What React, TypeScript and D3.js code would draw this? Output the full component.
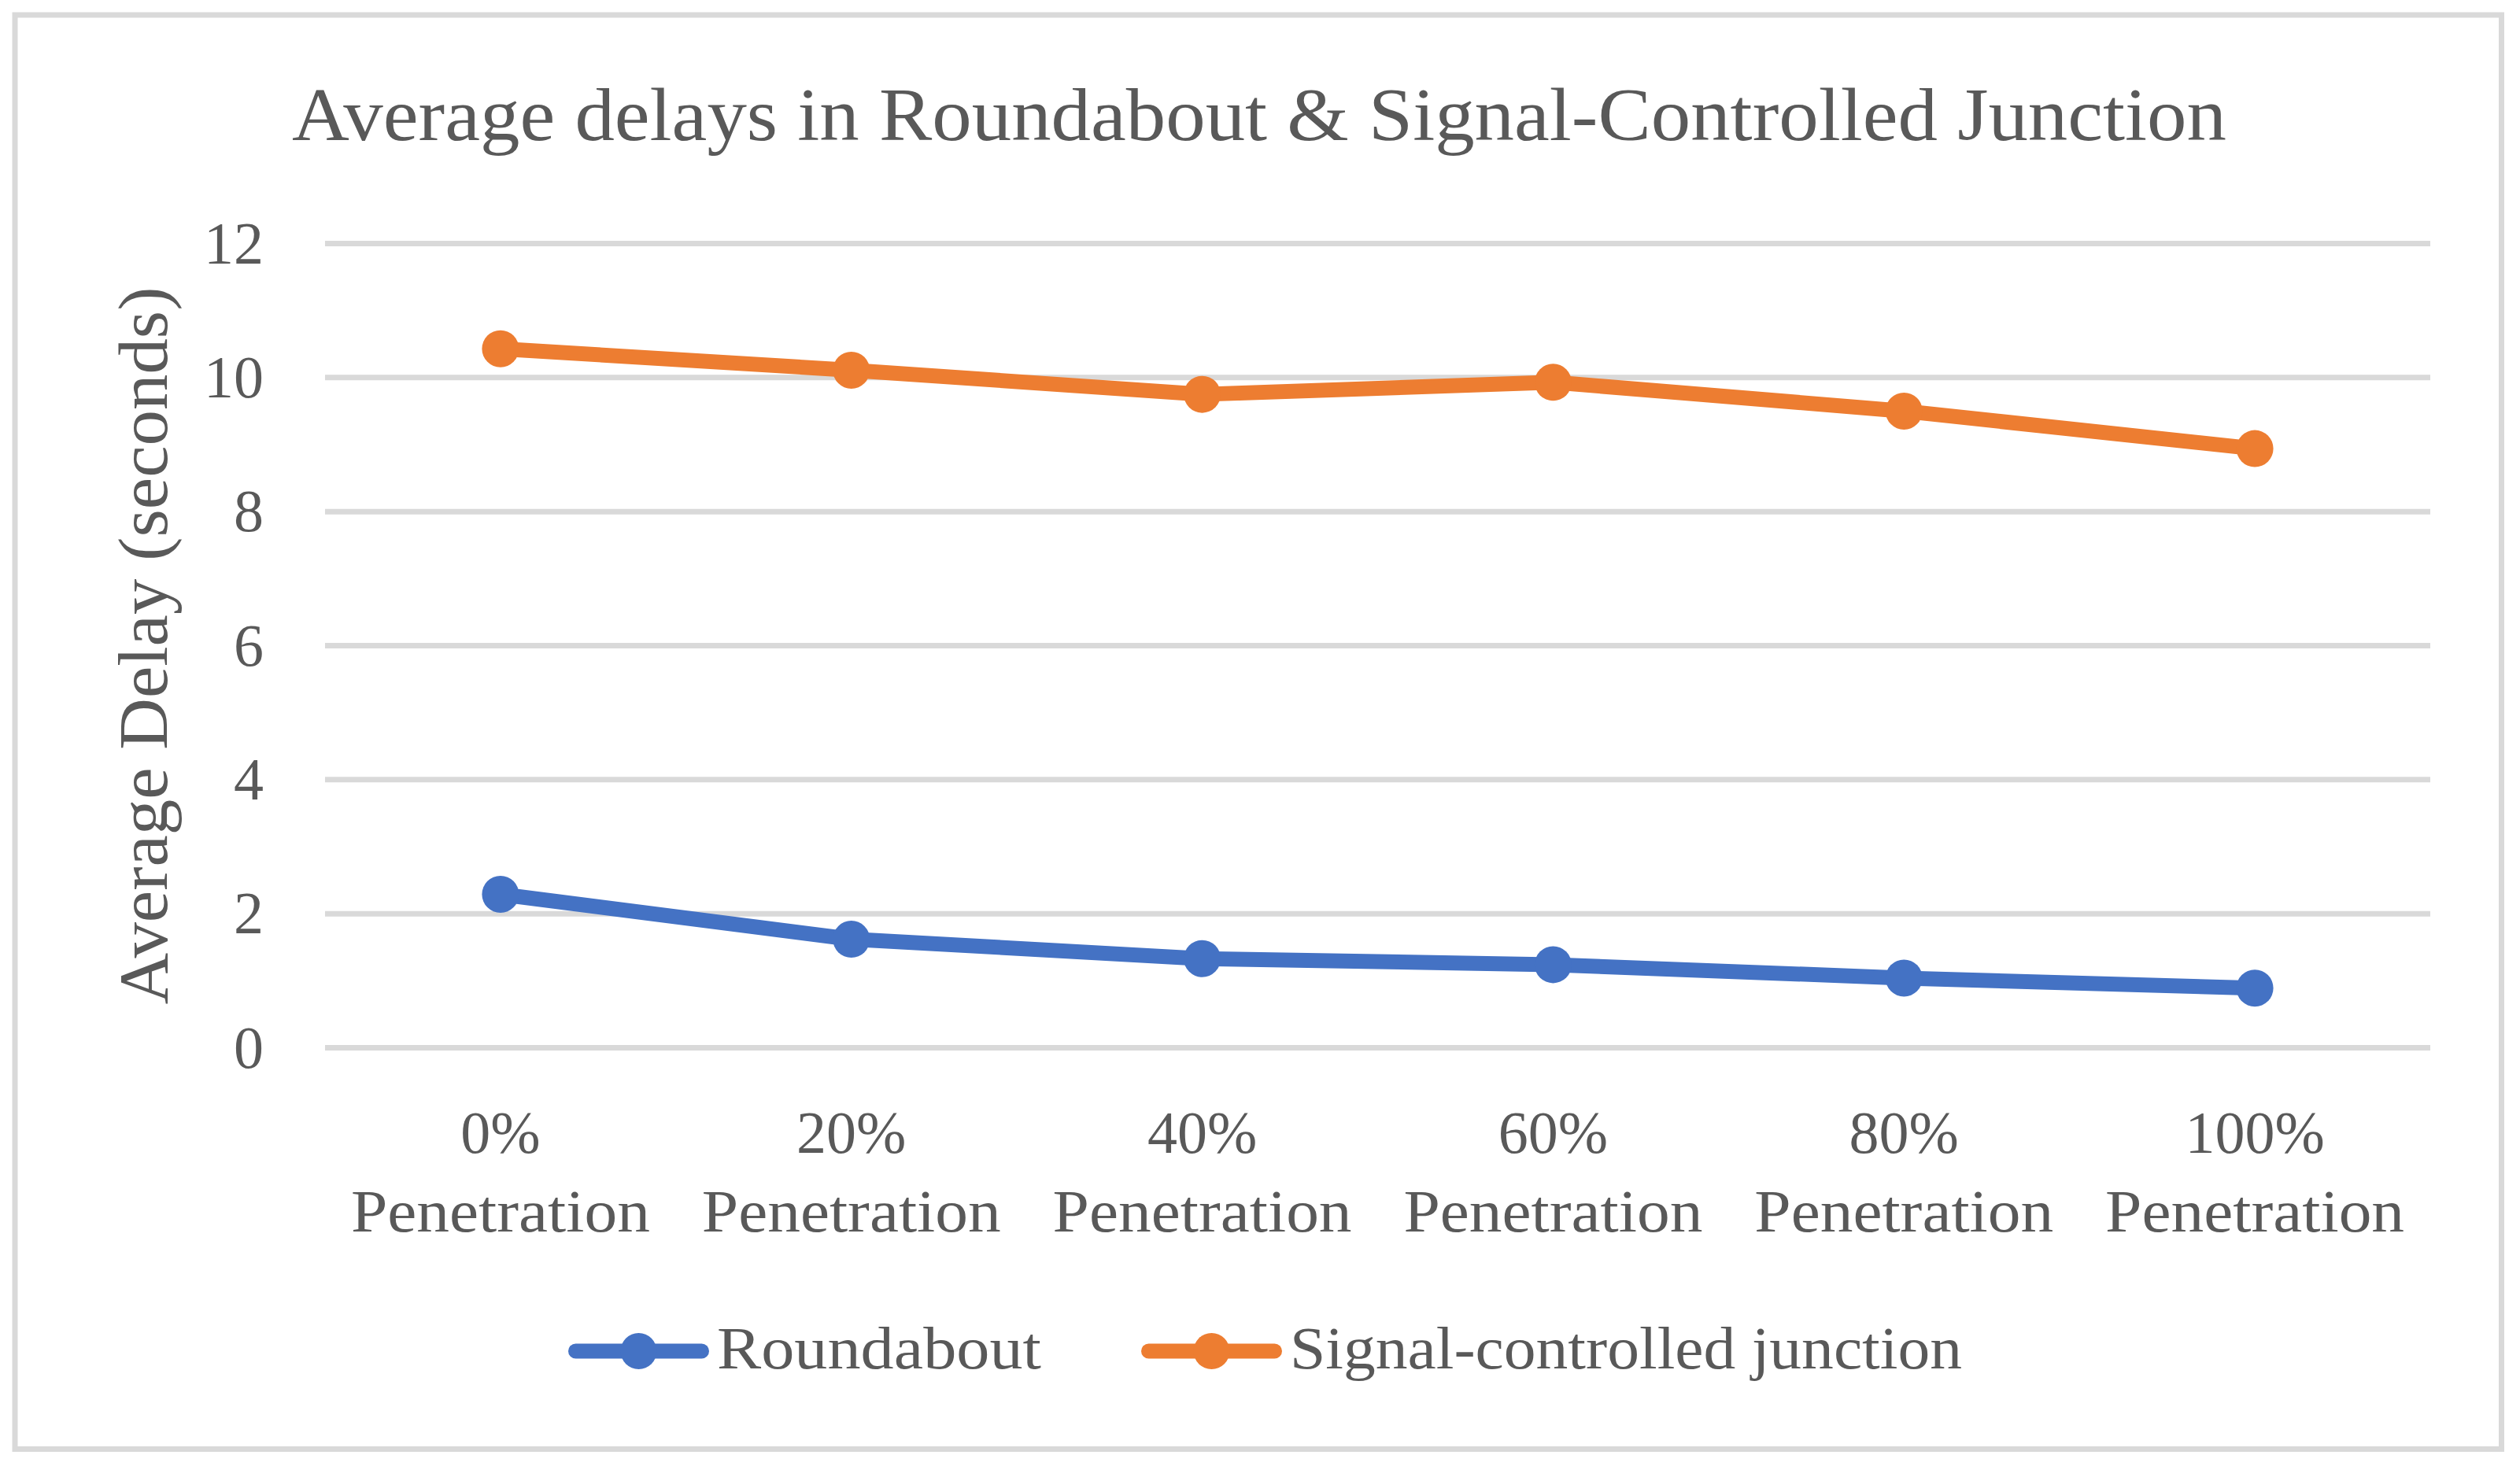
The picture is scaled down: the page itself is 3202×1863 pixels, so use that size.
import React, { useEffect, useRef } from "react";
import * as d3 from "d3";

const categories = ["0%", "20%", "40%", "60%", "80%", "100%"];
const categorySubLabel = "Penetration";
const roundabout = [2.29, 1.62, 1.33, 1.24, 1.04, 0.89];
const signalJunction = [10.43, 10.11, 9.75, 9.93, 9.5, 8.94];
const yTicks = [0, 2, 4, 6, 8, 10, 12];
const seriesNames = ["Roundabout", "Signal-controlled junction"];

const COLORS = {
  roundabout: "#4472c4",
  signal: "#ed7d31",
  text: "#595959",
  grid: "#d9d9d9",
};

const WIDTH = 3202;
const HEIGHT = 1863;
const FONT = "'Liberation Serif', 'DejaVu Serif', serif";

export default function App() {
  const svgRef = useRef<SVGSVGElement>(null);

  useEffect(() => {
    if (!svgRef.current) return;
    const svg = d3.select(svgRef.current);
    svg.selectAll("*").remove();

    svg.attr("width", WIDTH).attr("height", HEIGHT);

    // background + outer border
    svg.append("rect").attr("width", WIDTH).attr("height", HEIGHT).attr("fill", "#fff");
    svg
      .append("rect")
      .attr("x", 19)
      .attr("y", 19)
      .attr("width", 3178.5 - 19)
      .attr("height", 1841.5 - 19)
      .attr("fill", "none")
      .attr("stroke", COLORS.grid)
      .attr("stroke-width", 7);

    const plot = { left: 413, right: 3088, top: 309.5, bottom: 1331.5 };

    const x = d3.scaleBand<string>().domain(categories).range([plot.left, plot.right]);
    const cx = (c: string) => (x(c) ?? 0) + x.bandwidth() / 2;
    const y = d3.scaleLinear().domain([0, 12]).range([plot.bottom, plot.top]);

    // title
    svg
      .append("text")
      .attr("x", 1600)
      .attr("y", 178)
      .attr("text-anchor", "middle")
      .attr("font-family", FONT)
      .attr("font-size", 96)
      .attr("fill", COLORS.text)
      .attr("textLength", 2458)
      .attr("lengthAdjust", "spacingAndGlyphs")
      .text("Average delays in Roundabout & Signal-Controlled Junction");

    // gridlines
    svg
      .append("g")
      .selectAll("line")
      .data(yTicks)
      .join("line")
      .attr("x1", plot.left)
      .attr("x2", plot.right)
      .attr("y1", (d) => y(d))
      .attr("y2", (d) => y(d))
      .attr("stroke", COLORS.grid)
      .attr("stroke-width", 7);

    // y tick labels
    svg
      .append("g")
      .selectAll("text")
      .data(yTicks)
      .join("text")
      .attr("x", 335)
      .attr("y", (d) => y(d) + 25)
      .attr("text-anchor", "end")
      .attr("font-family", FONT)
      .attr("font-size", 76)
      .attr("fill", COLORS.text)
      .text((d) => d.toString());

    // y axis title
    svg
      .append("text")
      .attr("transform", `translate(212, ${(plot.top + plot.bottom) / 2}) rotate(-90)`)
      .attr("text-anchor", "middle")
      .attr("font-family", FONT)
      .attr("font-size", 88)
      .attr("fill", COLORS.text)
      .attr("textLength", 912)
      .attr("lengthAdjust", "spacingAndGlyphs")
      .text("Average Delay (seconds)");

    // x labels (two lines)
    const xLabels = svg.append("g").selectAll("g").data(categories).join("g");
    xLabels
      .append("text")
      .attr("x", (d) => cx(d))
      .attr("y", 1465)
      .attr("text-anchor", "middle")
      .attr("font-family", FONT)
      .attr("font-size", 76)
      .attr("fill", COLORS.text)
      .text((d) => d);
    xLabels
      .append("text")
      .attr("x", (d) => cx(d))
      .attr("y", 1565)
      .attr("text-anchor", "middle")
      .attr("font-family", FONT)
      .attr("font-size", 76)
      .attr("fill", COLORS.text)
      .attr("textLength", 380)
      .attr("lengthAdjust", "spacingAndGlyphs")
      .text(categorySubLabel);

    // series
    const series = [
      { name: seriesNames[0], values: roundabout, color: COLORS.roundabout },
      { name: seriesNames[1], values: signalJunction, color: COLORS.signal },
    ];

    const line = d3
      .line<number>()
      .x((_, i) => cx(categories[i]))
      .y((d) => y(d));

    series.forEach((s) => {
      svg
        .append("path")
        .datum(s.values)
        .attr("fill", "none")
        .attr("stroke", s.color)
        .attr("stroke-width", 19)
        .attr("stroke-linejoin", "round")
        .attr("stroke-linecap", "round")
        .attr("d", line);

      svg
        .append("g")
        .selectAll("circle")
        .data(s.values)
        .join("circle")
        .attr("cx", (_, i) => cx(categories[i]))
        .attr("cy", (d) => y(d))
        .attr("r", 23.5)
        .attr("fill", s.color);
    });

    // legend
    const legendY = 1717;
    const legendItems = [
      { start: 722, textLen: 412 },
      { start: 1450, textLen: 854 },
    ];
    series.forEach((s, i) => {
      const item = legendItems[i];
      const g = svg.append("g").attr("transform", `translate(${item.start}, ${legendY})`);
      g.append("line")
        .attr("x1", 9.5)
        .attr("x2", 169.5)
        .attr("stroke", s.color)
        .attr("stroke-width", 19)
        .attr("stroke-linecap", "round");
      g.append("circle").attr("cx", 89.5).attr("r", 23).attr("fill", s.color);
      g.append("text")
        .attr("x", 189)
        .attr("y", 22)
        .attr("font-family", FONT)
        .attr("font-size", 76)
        .attr("fill", COLORS.text)
        .attr("textLength", item.textLen)
        .attr("lengthAdjust", "spacingAndGlyphs")
        .text(s.name);
    });
  }, []);

  return (
    <div style={{ position: "absolute", left: 0, top: 0 }}>
      <svg ref={svgRef} style={{ display: "block" }}></svg>
    </div>
  );
}
